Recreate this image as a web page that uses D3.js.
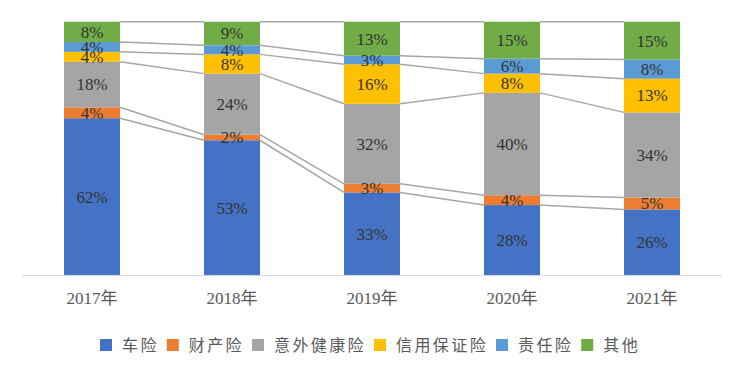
<!DOCTYPE html>
<html>
<head>
<meta charset="utf-8">
<script src="https://cdn.jsdelivr.net/npm/d3@7"></script>
<style>
  html, body { margin: 0; padding: 0; background: #fff; }
  svg { display: block; }
</style>
</head>
<body>
<svg id="chart" width="744" height="375"></svg>
<script>
const years = ["2017年", "2018年", "2019年", "2020年", "2021年"];
const seriesNames = ["车险", "财产险", "意外健康险", "信用保证险", "责任险", "其他"];
const seriesColors = ["#4472C4", "#ED7D31", "#A5A5A5", "#FFC000", "#5B9BD5", "#70AD47"];
const carIns     = [61.9, 53.2, 32.6, 27.6, 25.9];
const propertyIns = [4.3, 2.2, 3.4, 3.9, 4.7];
const accidentHealth = [18.0, 24.1, 31.6, 40.4, 33.6];
const creditGuarantee = [3.9, 7.6, 15.6, 7.6, 13.3];
const liabilityIns = [3.9, 3.6, 3.4, 5.9, 7.6];
const others = [8.0, 9.3, 13.4, 14.6, 14.9];
const seriesValues = [carIns, propertyIns, accidentHealth, creditGuarantee, liabilityIns, others];

const rows = years.map((y, i) => {
  const r = { year: y };
  seriesNames.forEach((s, k) => { r[s] = seriesValues[k][i]; });
  return r;
});

const serifFont = "'Liberation Serif', 'Times New Roman', 'DejaVu Serif', 'Noto Sans CJK SC', serif";

const svg = d3.select("#chart");
const plot = { left: 22, right: 722, top: 21.7, bottom: 275 };

const x = d3.scaleBand().domain(years).range([plot.left, plot.right]).paddingInner(0.6).paddingOuter(0.3);
const y = d3.scaleLinear().domain([0, 1]).range([plot.bottom, plot.top]);

const stack = d3.stack().keys(seriesNames).offset(d3.stackOffsetExpand);
const stacked = stack(rows);
const bw = x.bandwidth();

// bars
const g = svg.append("g");
stacked.forEach((layer, k) => {
  g.selectAll(null).data(layer).enter().append("rect")
    .attr("x", d => x(d.data.year))
    .attr("width", bw)
    .attr("y", d => y(d[1]))
    .attr("height", d => y(d[0]) - y(d[1]))
    .attr("fill", seriesColors[k]);
});

// series lines
const lineG = svg.append("g");
stacked.forEach((layer) => {
  for (let i = 0; i < layer.length - 1; i++) {
    lineG.append("line")
      .attr("x1", x(years[i]) + bw)
      .attr("y1", y(layer[i][1]))
      .attr("x2", x(years[i + 1]))
      .attr("y2", y(layer[i + 1][1]))
      .attr("stroke", "#A6A6A6")
      .attr("stroke-width", 1.5);
  }
});

// axis
const axisG = svg.append("g").attr("transform", `translate(0,${plot.bottom})`)
  .call(d3.axisBottom(x).tickSize(0).tickPadding(17));
axisG.attr("font-family", null).attr("font-size", null);
axisG.select(".domain").attr("stroke", "#D9D9D9").attr("stroke-width", 1)
  .attr("d", `M${plot.left},0.5H${plot.right}`);
axisG.selectAll("text")
  .style("font-family", serifFont)
  .style("font-size", "17px")
  .attr("fill", "#595959");

// labels
const labG = svg.append("g");
stacked.forEach((layer, k) => {
  labG.selectAll(null).data(layer).enter().append("text")
    .attr("x", d => x(d.data.year) + bw / 2)
    .attr("y", d => (y(d[0]) + y(d[1])) / 2)
    .attr("dy", "0.35em")
    .attr("text-anchor", "middle")
    .style("font-family", serifFont)
    .style("font-size", "17px")
    .attr("fill", "#333333")
    .text(d => Math.round(d.data[seriesNames[k]]) + "%");
});

// legend
const legendG = svg.append("g");
let lx = 100;
seriesNames.forEach((s, k) => {
  legendG.append("rect").attr("x", lx).attr("y", 339).attr("width", 12).attr("height", 12)
    .attr("fill", seriesColors[k]);
  const t = legendG.append("text").attr("x", lx + 22).attr("y", 345).attr("dy", "0.36em")
    .style("font-family", "'Noto Sans CJK SC', sans-serif")
    .style("font-size", "16px")
    .attr("letter-spacing", 2.4)
    .attr("fill", "#595959")
    .text(s);
  const w = t.node().getComputedTextLength();
  lx = lx + 22 + w + 8;
});
</script>
</body>
</html>
